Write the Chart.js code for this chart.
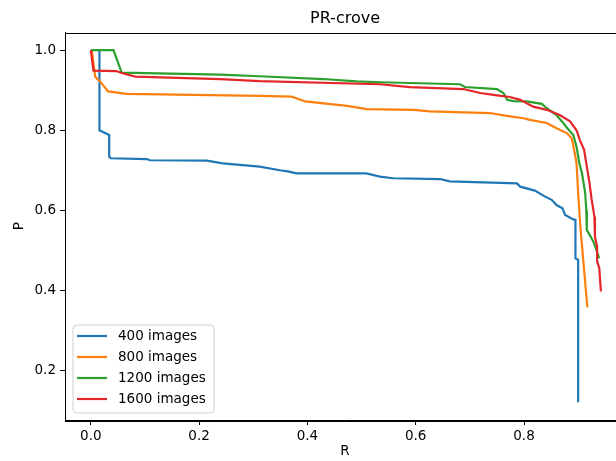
<!DOCTYPE html>
<html>
<head>
<meta charset="utf-8">
<script src="https://cdn.jsdelivr.net/npm/chart.js@4.4.0/dist/chart.umd.min.js"></script>
<style>
    html, body { margin: 0; padding: 0; background: #fff; overflow: hidden; }
    #pr { display: block; }
</style>
</head>
<body>
<canvas id="pr" width="640" height="461"></canvas>
<script>
    const seriesNames = ['400 images', '800 images', '1200 images', '1600 images'];
    const colors = ['#1f77b4', '#ff7f0e', '#2ca02c', '#e32629'];

    const xTicks = [0.0, 0.2, 0.4, 0.6, 0.8];
    const yTicks = [0.2, 0.4, 0.6, 0.8, 1.0];

    // recall / precision
    const r400 = [0.016, 0.016, 0.034, 0.034, 0.037, 0.104, 0.109, 0.214, 0.244, 0.312, 0.349, 0.364, 0.380, 0.509, 0.534, 0.558, 0.645, 0.663, 0.787, 0.793, 0.820, 0.839, 0.851, 0.860, 0.871, 0.876, 0.891, 0.895, 0.895, 0.900, 0.900];
    const p400 = [1.000, 0.800, 0.788, 0.734, 0.730, 0.728, 0.725, 0.724, 0.717, 0.709, 0.700, 0.697, 0.692, 0.692, 0.684, 0.680, 0.678, 0.672, 0.667, 0.659, 0.649, 0.634, 0.626, 0.613, 0.605, 0.588, 0.577, 0.576, 0.480, 0.476, 0.120];

    const r800 = [0.002, 0.008, 0.017, 0.032, 0.066, 0.312, 0.371, 0.396, 0.473, 0.510, 0.596, 0.626, 0.737, 0.768, 0.799, 0.811, 0.842, 0.860, 0.879, 0.888, 0.892, 0.897, 0.900, 0.904, 0.917];
    const p800 = [1.000, 0.934, 0.922, 0.897, 0.891, 0.886, 0.884, 0.872, 0.861, 0.853, 0.851, 0.847, 0.843, 0.836, 0.830, 0.826, 0.818, 0.805, 0.793, 0.780, 0.755, 0.718, 0.643, 0.560, 0.357];

    const r1200 = [0.000, 0.042, 0.057, 0.239, 0.312, 0.429, 0.491, 0.534, 0.682, 0.691, 0.750, 0.762, 0.769, 0.780, 0.805, 0.833, 0.842, 0.860, 0.870, 0.880, 0.891, 0.897, 0.902, 0.907, 0.913, 0.915, 0.916, 0.928, 0.939];
    const p1200 = [1.000, 1.000, 0.944, 0.939, 0.935, 0.928, 0.922, 0.920, 0.915, 0.908, 0.903, 0.893, 0.876, 0.873, 0.872, 0.866, 0.855, 0.838, 0.822, 0.805, 0.788, 0.759, 0.718, 0.693, 0.643, 0.600, 0.551, 0.522, 0.480];

    const r1600 = [0.000, 0.005, 0.047, 0.057, 0.082, 0.239, 0.312, 0.534, 0.589, 0.688, 0.719, 0.750, 0.774, 0.793, 0.817, 0.842, 0.866, 0.885, 0.897, 0.903, 0.911, 0.916, 0.921, 0.925, 0.930, 0.931, 0.935, 0.935, 0.939, 0.942];
    const p1600 = [1.000, 0.949, 0.948, 0.943, 0.934, 0.928, 0.923, 0.915, 0.908, 0.903, 0.893, 0.887, 0.883, 0.876, 0.859, 0.851, 0.838, 0.822, 0.800, 0.776, 0.751, 0.709, 0.668, 0.626, 0.584, 0.534, 0.509, 0.472, 0.455, 0.397];

    const recalls = [r400, r800, r1200, r1600];
    const precisions = [p400, p800, p1200, p1600];

    function toPoints(rs, ps) {
        const pts = [];
        for (var i = 0; i < rs.length; i++) {
            pts.push({ x: rs[i], y: ps[i] });
        }
        return pts;
    }

    const datasets = [];
    for (var k = 0; k < seriesNames.length; k++) {
        datasets.push({
            label: seriesNames[k],
            data: toPoints(recalls[k], precisions[k]),
            borderColor: colors[k],
            backgroundColor: colors[k],
            borderWidth: 2.2,
            pointRadius: 0,
            tension: 0,
            fill: false,
            order: seriesNames.length - k
        });
    }

    const font = { family: "'DejaVu Sans', sans-serif", size: 13.5 };

    // black frame round the plot, like matplotlib
    const framePlugin = {
        id: 'frame',
        afterDatasetsDraw(chart) {
            const a = chart.chartArea;
            const ctx = chart.ctx;
            ctx.save();
            ctx.strokeStyle = '#000';
            ctx.lineWidth = 1;
            ctx.strokeRect(Math.round(a.left) + 0.5, Math.round(a.top) + 0.5, Math.round(a.right - a.left), Math.round(a.bottom - a.top));
            ctx.restore();
        }
    };

    // legend box in the lower left corner of the plot
    const boxLegend = {
        id: 'boxLegend',
        afterDraw(chart) {
            const a = chart.chartArea;
            const ctx = chart.ctx;
            const x0 = a.left + 8, y0 = a.bottom - 95, w = 141, h = 88;
            ctx.save();
            ctx.beginPath();
            ctx.roundRect(x0, y0, w, h, 4);
            ctx.fillStyle = 'rgba(255,255,255,0.8)';
            ctx.fill();
            ctx.strokeStyle = '#d0d0d0';
            ctx.lineWidth = 1;
            ctx.stroke();
            ctx.font = "13.5px 'DejaVu Sans', sans-serif";
            ctx.textBaseline = 'middle';
            ctx.fillStyle = '#000';
            chart.data.datasets.forEach(function (ds, i) {
                const yy = y0 + 11 + i * 21;
                ctx.strokeStyle = ds.borderColor;
                ctx.lineWidth = 2.2;
                ctx.beginPath();
                ctx.moveTo(x0 + 4, yy);
                ctx.lineTo(x0 + 34, yy);
                ctx.stroke();
                ctx.fillText(ds.label, x0 + 45, yy);
            });
            ctx.restore();
        }
    };

    new Chart(document.getElementById('pr'), {
        type: 'line',
        data: { datasets: datasets },
        options: {
            responsive: false,
            animation: false,
            layout: { padding: { left: 0, right: 15, top: 0, bottom: 0 } },
            plugins: {
                legend: { display: false },
                tooltip: { enabled: false },
                title: {
                    display: true,
                    text: 'PR-crove',
                    fullSize: false,
                    color: '#000',
                    font: { family: "'DejaVu Sans', sans-serif", size: 16, weight: 'normal' },
                    padding: { top: 9.4, bottom: 3.9 }
                }
            },
            scales: {
                x: {
                    type: 'linear',
                    min: -0.0476,
                    max: 0.9865,
                    afterBuildTicks: function (scale) {
                        scale.ticks = xTicks.map(function (v) { return { value: v }; });
                    },
                    afterFit: function (scale) { scale.height = 41; },
                    ticks: {
                        color: '#000',
                        font: font,
                        padding: 3,
                        maxRotation: 0,
                        callback: function (v) { return Number(v).toFixed(1); }
                    },
                    grid: { drawOnChartArea: false, drawTicks: true, tickLength: 5, color: '#000' },
                    border: { display: true, color: '#000' },
                    title: { display: true, text: 'R', color: '#000', font: font, padding: { top: 0, bottom: 1 } }
                },
                y: {
                    type: 'linear',
                    min: 0.0757,
                    max: 1.0443,
                    afterBuildTicks: function (scale) {
                        scale.ticks = yTicks.map(function (v) { return { value: v }; });
                    },
                    afterFit: function (scale) { scale.width = 65; },
                    ticks: {
                        color: '#000',
                        font: font,
                        padding: 4,
                        callback: function (v) { return Number(v).toFixed(1); }
                    },
                    grid: { drawOnChartArea: false, drawTicks: true, tickLength: 5, color: '#000' },
                    border: { display: true, color: '#000' },
                    title: { display: true, text: 'P', color: '#000', font: font, padding: { top: 11, bottom: 0 } }
                }
            }
        },
        plugins: [framePlugin, boxLegend]
    });
</script>
</body>
</html>
